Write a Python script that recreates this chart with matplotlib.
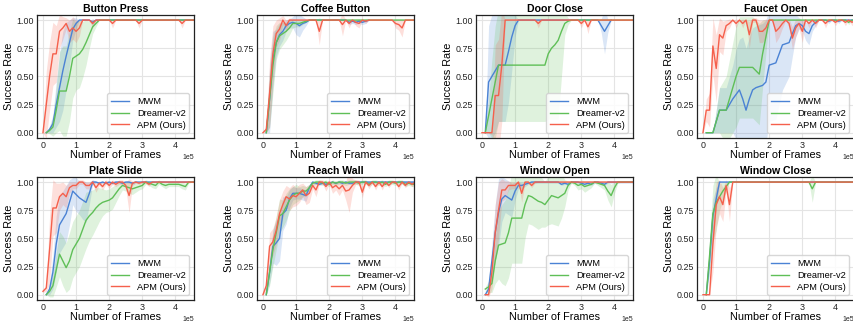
import numpy as np
import matplotlib
matplotlib.use("Agg")
import matplotlib.pyplot as plt
from matplotlib.ticker import FormatStrFormatter

plt.rcParams["font.family"] = ["Liberation Sans", "DejaVu Sans"]

STEP = 1e4  # environment frames between evaluation points

methods = ["MWM", "Dreamer-v2", "APM (Ours)"]
colors = ["#4a82d4", "#5fbf57", "#f5604c"]

titles = ["Button Press", "Coffee Button", "Door Close", "Faucet Open",
          "Plate Slide", "Reach Wall", "Window Open", "Window Close"]

# ---------------- Button Press ----------------
bp_mwm = [0, 0.03, 0.08, 0.25, 0.4, 0.55, 0.68, 0.8, 0.92, 0.97, 1.0, 1, 1, 1, 0.98,
          1, 1, 1, 1, 1, 1, 1, 1, 1, 1, 1, 1, 1, 1, 1, 1, 1, 1, 1, 1, 1, 1, 1, 1, 1, 1, 1, 1, 1, 1, 1]
bp_mwm_sd = [0, 0.03, 0.08, 0.2, 0.3, 0.35, 0.3, 0.2, 0.1, 0.05, 0, 0, 0, 0, 0.03,
             0, 0, 0, 0, 0, 0, 0, 0, 0, 0, 0, 0, 0, 0, 0, 0, 0, 0, 0, 0, 0, 0, 0, 0, 0, 0, 0, 0, 0, 0, 0]
bp_dreamer = [0, 0.02, 0.05, 0.2, 0.37, 0.37, 0.37, 0.5, 0.66, 0.68, 0.7, 0.74, 0.8, 0.87, 0.94, 0.97, 1.0,
              1, 1, 1, 1, 1, 1, 1, 1, 1, 1, 1, 1, 1, 1, 1, 1, 1, 1, 1, 1, 1, 1, 1, 1, 1, 1, 1, 1, 1]
bp_dreamer_sd = [0, 0.03, 0.08, 0.2, 0.35, 0.4, 0.4, 0.4, 0.35, 0.3, 0.3, 0.25, 0.2, 0.12, 0.06, 0.03, 0,
                 0, 0, 0, 0, 0, 0, 0, 0, 0, 0, 0, 0, 0, 0, 0, 0, 0, 0, 0, 0, 0, 0, 0, 0, 0, 0, 0, 0, 0]
bp_apm = [0, 0.25, 0.5, 0.7, 0.7, 0.9, 0.93, 0.97, 0.9, 0.93, 0.9, 0.93, 1, 1, 1, 0.97,
          1, 1, 1, 1, 1, 0.97, 1, 1, 1, 1, 1, 1, 1, 0.97, 1, 1, 1, 1, 1, 1, 1, 1, 1, 1, 1, 1, 0.97, 1, 1, 1, 1]
bp_apm_sd = [0, 0.3, 0.3, 0.28, 0.25, 0.15, 0.1, 0.05, 0.1, 0.1, 0.1, 0.07, 0, 0, 0, 0.04,
             0, 0, 0, 0, 0, 0.04, 0, 0, 0, 0, 0, 0, 0, 0.04, 0, 0, 0, 0, 0, 0, 0, 0, 0, 0, 0, 0, 0.04, 0, 0, 0, 0]

# ---------------- Coffee Button ----------------
cb_mwm = [0, 0.3, 0.65, 0.8, 0.87, 0.9, 0.95, 0.97, 0.98, 0.97, 0.95, 0.97, 0.98, 1.0,
          1, 1, 1, 1, 1, 1, 1, 1, 1, 1, 1, 0.98, 0.99, 0.98, 0.99, 0.98, 0.99, 1.0]
cb_mwm_sd = [0, 0.3, 0.25, 0.12, 0.1, 0.08, 0.05, 0.04, 0.05, 0.1, 0.1, 0.06, 0.03, 0,
             0, 0, 0, 0, 0, 0, 0, 0, 0, 0, 0, 0.02, 0.02, 0.02, 0.02, 0.02, 0.02, 0]
cb_dreamer = [0, 0.3, 0.6, 0.8, 0.86, 0.88, 0.9, 0.93, 0.97, 0.97, 0.97, 0.98, 0.99, 1.0,
              1, 1, 1, 1, 1, 1, 1, 1, 1, 1, 1, 1, 1, 1, 1, 1, 1, 1, 1, 1, 1, 1, 1, 1, 1, 1, 1, 1, 1, 1, 1, 1]
cb_dreamer_sd = [0, 0.25, 0.25, 0.15, 0.12, 0.1, 0.08, 0.06, 0.04, 0.03, 0.03, 0.02, 0.01, 0,
                 0, 0, 0, 0, 0, 0, 0, 0, 0, 0, 0, 0, 0, 0, 0, 0, 0, 0, 0, 0, 0, 0, 0, 0, 0, 0, 0, 0, 0, 0, 0, 0]
cb_apm = [0, 0.03, 0.35, 0.7, 0.88, 0.92, 1.0, 0.95, 1.0, 1, 1, 1, 1, 1, 1, 1, 1, 0.9,
          1, 1, 1, 1, 1, 1, 0.96, 1.0, 0.97, 1.0, 0.98, 0.97, 1.0, 0.99,
          1, 1, 1, 1, 1, 1, 1, 1, 0.97, 0.96, 0.93, 1.0, 1, 1, 1]
cb_apm_sd = [0, 0.03, 0.3, 0.25, 0.12, 0.1, 0.04, 0.05, 0.02, 0, 0, 0, 0, 0, 0, 0, 0, 0.12,
             0, 0, 0, 0, 0, 0, 0.1, 0, 0.04, 0, 0.03, 0.04, 0, 0.02,
             0, 0, 0, 0, 0, 0, 0, 0, 0.04, 0.05, 0.08, 0, 0, 0, 0]

# ---------------- Door Close ----------------
dc_mwm = [0, 0.45, 0.5, 0.55, 0.6, 0.6, 0.6, 0.72, 0.85, 0.95, 1.0,
          1, 1, 1, 1, 1, 1, 1, 1, 1, 1, 1, 1, 1, 1, 1, 1, 1, 1, 1, 1, 1, 1, 1, 1,
          0.95, 0.9, 0.95, 1.0]
dc_mwm_sd = [0, 0.5, 0.55, 0.55, 0.5, 0.5, 0.5, 0.45, 0.3, 0.1, 0,
             0, 0, 0, 0, 0, 0, 0, 0, 0, 0, 0, 0, 0, 0, 0, 0, 0, 0, 0, 0, 0, 0, 0, 0,
             0.06, 0.2, 0.06, 0]
dc_dreamer = [0, 0.15, 0.3, 0.45, 0.6, 0.6, 0.6, 0.6, 0.6, 0.6, 0.6, 0.6, 0.6, 0.6, 0.6, 0.6, 0.6, 0.6, 0.6,
              0.7, 0.75, 0.78, 0.82, 0.9, 0.97, 0.99, 1.0,
              1, 1, 1, 1, 1, 1, 1, 1, 1, 1, 1, 1, 1, 1, 1, 1, 1, 1, 1]
dc_dreamer_sd = [0, 0.15, 0.35, 0.5, 0.5, 0.5, 0.5, 0.5, 0.5, 0.5, 0.5, 0.5, 0.5, 0.5, 0.5, 0.5, 0.5, 0.5, 0.5,
                 0.58, 0.63, 0.66, 0.7, 0.4, 0.1, 0.03, 0,
                 0, 0, 0, 0, 0, 0, 0, 0, 0, 0, 0, 0, 0, 0, 0, 0, 0, 0, 0]
dc_apm = [0, 0, 0, 0, 0.33, 0.33, 0.6, 1.0, 1, 1, 1, 1, 1, 1, 1, 1, 1, 0.97,
          1, 1, 1, 1, 1, 1, 1, 1, 1, 1, 1, 1, 0.97, 1.0, 0.94,
          1, 1, 1, 1, 1, 1, 1, 1, 1, 1, 1, 1, 1, 1]
dc_apm_sd = [0, 0, 0, 0.02, 0.45, 0.5, 0.5, 0, 0, 0, 0, 0, 0, 0, 0, 0, 0, 0.04,
             0, 0, 0, 0, 0, 0, 0, 0, 0, 0, 0, 0, 0.04, 0, 0.06,
             0, 0, 0, 0, 0, 0, 0, 0, 0, 0, 0, 0, 0, 0]

# ---------------- Faucet Open ----------------
fo_mwm = [0, 0, 0, 0.1, 0.2, 0.2, 0.2, 0.25, 0.3, 0.34, 0.38, 0.3, 0.2, 0.3, 0.38, 0.4, 0.41, 0.42, 0.45,
          0.6, 0.61, 0.62, 0.7, 0.78, 0.79, 0.8, 0.88, 0.95, 0.97, 0.95, 0.9, 0.88, 0.95, 0.98,
          1.0, 1.0, 1.0, 0.99, 1.0, 1.0, 0.99, 1.0, 1.0, 1.0, 1.0, 1.0]
fo_mwm_sd = [0, 0, 0, 0.1, 0.2, 0.2, 0.2, 0.25, 0.3, 0.4, 0.45, 0.55, 0.55, 0.55, 0.55, 0.55, 0.55, 0.55, 0.55,
             0.5, 0.5, 0.5, 0.45, 0.4, 0.35, 0.3, 0.2, 0.1, 0.05, 0.05, 0.08, 0.1, 0.05, 0.03,
             0, 0, 0, 0.02, 0, 0, 0.02, 0, 0, 0, 0, 0]
fo_dreamer = [0, 0, 0, 0.1, 0.2, 0.2, 0.2, 0.3, 0.4, 0.5, 0.58, 0.58, 0.58, 0.58, 0.58, 0.55, 0.52, 0.7, 0.85, 1.0,
              1, 1, 1, 1, 1, 1, 1, 1, 1, 1, 1, 1, 1, 1, 1, 1, 1, 1, 1, 1, 1, 1, 1, 0.98, 1.0, 1.0]
fo_dreamer_sd = [0, 0, 0, 0.1, 0.2, 0.25, 0.3, 0.35, 0.4, 0.45, 0.45, 0.45, 0.45, 0.45, 0.45, 0.45, 0.45, 0.3, 0.15, 0,
                 0, 0, 0, 0, 0, 0, 0, 0, 0, 0, 0, 0, 0, 0, 0, 0, 0, 0, 0, 0, 0, 0, 0, 0.02, 0, 0]
fo_apm = [0, 0.2, 0.2, 0.77, 0.57, 0.87, 0.84, 0.95, 0.97, 1.0, 0.97, 1.0, 0.97, 1.0, 0.87, 1.0, 1.0,
          0.9, 0.9, 0.93, 1.0, 1.0, 0.9, 0.93, 0.97, 1.0, 0.97, 0.84, 0.93, 0.97, 0.9, 1.0,
          0.97, 1.0, 0.97, 1.0, 1.0, 0.97, 1.0, 1.0, 0.98, 1.0, 1.0, 0.98, 1.0, 0.98, 1.0]
fo_apm_sd = [0, 0.1, 0.15, 0.25, 0.3, 0.15, 0.15, 0.05, 0.04, 0, 0.04, 0, 0.04, 0, 0.12, 0.02, 0.02,
             0.1, 0.1, 0.08, 0, 0, 0.1, 0.08, 0.04, 0, 0.04, 0.1, 0.08, 0.04, 0.1, 0,
             0.04, 0, 0.04, 0, 0, 0.04, 0, 0, 0.03, 0, 0, 0.03, 0, 0.03, 0]

# ---------------- Plate Slide ----------------
ps_mwm = [0, 0.05, 0.2, 0.45, 0.62, 0.67, 0.72, 0.82, 0.92, 0.89, 0.86, 0.84, 0.82, 0.9, 1.0,
          1.0, 0.99, 1.0, 0.99, 1.0, 0.99, 1.0, 1.0, 0.99, 1.0, 1.0, 0.99, 1.0,
          1, 1, 1, 1, 1, 1, 1, 1, 1, 1, 1, 1, 1, 1, 1, 1, 1, 1]
ps_mwm_sd = [0, 0.05, 0.15, 0.25, 0.25, 0.25, 0.25, 0.2, 0.12, 0.15, 0.15, 0.17, 0.18, 0.1, 0.02,
             0.01, 0.01, 0.01, 0.01, 0.01, 0.01, 0.01, 0.01, 0.01, 0.01, 0.01, 0.01, 0.01,
             0, 0, 0, 0, 0, 0, 0, 0, 0, 0, 0, 0, 0, 0, 0, 0, 0, 0]
ps_dreamer = [0, 0.03, 0.08, 0.22, 0.36, 0.3, 0.24, 0.3, 0.4, 0.45, 0.5, 0.58, 0.66, 0.7, 0.73, 0.77,
              0.8, 0.82, 0.83, 0.84, 0.86, 0.9, 0.94, 0.97, 0.96, 0.95, 0.94, 0.95, 0.96, 0.97, 1.0,
              0.99, 0.98, 0.97, 1.0, 0.98, 0.97, 0.98, 0.98, 0.98, 0.98, 0.97, 0.96, 1.0, 1.0, 1.0]
ps_dreamer_sd = [0, 0.05, 0.1, 0.15, 0.2, 0.22, 0.22, 0.25, 0.25, 0.25, 0.25, 0.25, 0.25, 0.22, 0.2, 0.18,
                 0.15, 0.12, 0.1, 0.1, 0.1, 0.08, 0.06, 0.04, 0.04, 0.05, 0.05, 0.04, 0.03, 0.03, 0.02,
                 0.02, 0.03, 0.03, 0.02, 0.02, 0.03, 0.02, 0.02, 0.02, 0.02, 0.03, 0.03, 0.01, 0, 0]
ps_apm = [0.03, 0.06, 0.4, 0.77, 0.77, 0.87, 0.9, 0.87, 0.95, 0.97, 0.97, 1.0, 1.0, 0.97, 0.97, 1.0,
          0.95, 0.99, 0.96, 1.0, 0.97, 1.0, 0.98, 1.0, 1.0, 0.97, 0.88, 0.99, 1.0, 0.99, 1.0, 1.0, 0.98,
          1, 1, 1, 1, 1, 1, 1, 1, 1, 1, 1, 1, 1, 1]
ps_apm_sd = [0.01, 0.03, 0.3, 0.25, 0.22, 0.12, 0.1, 0.1, 0.05, 0.03, 0.03, 0.02, 0.02, 0.03, 0.03, 0.02,
             0.04, 0.02, 0.03, 0.02, 0.03, 0.02, 0.02, 0.02, 0.02, 0.03, 0.15, 0.02, 0.01, 0.01, 0.01, 0.01, 0.02,
             0, 0, 0, 0, 0, 0, 0, 0, 0, 0, 0, 0, 0, 0]

# ---------------- Reach Wall ----------------
rw_mwm = [0, 0.2, 0.43, 0.46, 0.5, 0.72, 0.75, 0.85, 0.9, 0.9, 0.9, 0.89, 0.88, 0.95, 1.0,
          0.99, 0.98, 0.99, 0.98, 0.99, 1.0, 0.99, 1.0, 0.99, 1.0, 0.99, 0.99, 1.0,
          1, 1, 1, 1, 1, 1, 1, 1, 1, 1, 1, 1, 1, 1, 1, 1, 1, 1]
rw_mwm_sd = [0, 0.1, 0.15, 0.2, 0.2, 0.15, 0.12, 0.08, 0.06, 0.05, 0.05, 0.05, 0.05, 0.03, 0.01,
             0.01, 0.01, 0.01, 0.01, 0.01, 0.01, 0.01, 0.01, 0.01, 0.01, 0.01, 0.01, 0.01,
             0.01, 0.01, 0.01, 0.01, 0.01, 0.01, 0.01, 0.01, 0.01, 0.01, 0.01, 0.01, 0.01, 0.01, 0.01, 0.01, 0.01, 0.01]
rw_dreamer = [0, 0.2, 0.4, 0.55, 0.7, 0.72, 0.78, 0.84, 0.88, 0.9, 0.9, 0.92, 0.92, 0.95, 0.99,
              1.0, 1.0, 0.99, 1.0, 0.98, 1.0, 0.99, 1.0, 1.0, 0.99, 1.0, 1.0, 1.0, 0.99, 1.0, 1.0,
              0.98, 1.0, 1.0, 0.99, 1.0, 0.98, 1.0, 1.0, 0.99, 1.0, 1.0, 0.98, 0.99, 0.98, 0.98]
rw_dreamer_sd = [0, 0.12, 0.15, 0.15, 0.15, 0.12, 0.12, 0.1, 0.08, 0.08, 0.06, 0.05, 0.04, 0.03, 0.02,
                 0.02, 0.02, 0.02, 0.02, 0.02, 0.02, 0.02, 0.02, 0.02, 0.02, 0.02, 0.02, 0.02, 0.02, 0.02, 0.02,
                 0.02, 0.02, 0.02, 0.02, 0.02, 0.02, 0.02, 0.02, 0.02, 0.02, 0.02, 0.02, 0.02, 0.02, 0.02]
rw_apm = [0, 0.08, 0.43, 0.47, 0.57, 0.72, 0.8, 0.87, 0.85, 0.88, 0.87, 0.9, 0.93, 0.88, 0.9, 0.97,
          0.93, 1.0, 1.0, 0.96, 1.0, 0.95, 0.97, 0.94, 0.97, 0.92, 0.93, 0.97, 1.0, 1.0, 0.91,
          1.0, 0.97, 1.0, 0.96, 1.0, 0.96, 1.0, 0.97, 1.0, 1.0, 0.96, 1.0, 0.97, 1.0, 0.98, 1.0]
rw_apm_sd = [0, 0.05, 0.12, 0.12, 0.12, 0.12, 0.12, 0.1, 0.1, 0.1, 0.08, 0.08, 0.06, 0.08, 0.08, 0.03,
             0.06, 0.02, 0.02, 0.04, 0.02, 0.05, 0.04, 0.06, 0.04, 0.08, 0.2, 0.06, 0.02, 0.02, 0.05,
             0.01, 0.03, 0.01, 0.03, 0.01, 0.03, 0.01, 0.02, 0.01, 0.01, 0.03, 0.01, 0.02, 0.01, 0.02, 0.01]

# ---------------- Window Open ----------------
wo_mwm = [0, 0.05, 0.3, 0.55, 0.73, 0.85, 0.88, 0.86, 0.84, 0.92, 0.97, 0.97, 0.98, 0.99,
          1.0, 1.0, 1.0, 1.0, 1.0, 1.0, 1.0, 1.0, 1.0, 0.98, 0.99, 0.98, 1.0, 1.0, 1.0, 0.99,
          0.98, 0.99, 0.98, 1.0, 1.0, 0.99, 0.98, 1.0, 1, 1, 1, 1, 1, 1, 1, 1]
wo_mwm_sd = [0, 0.05, 0.15, 0.25, 0.3, 0.2, 0.15, 0.15, 0.15, 0.08, 0.03, 0.03, 0.02, 0.01,
             0.01, 0.01, 0.01, 0.01, 0.01, 0.01, 0.01, 0.01, 0.01, 0.01, 0.01, 0.01, 0.01, 0.01, 0.01, 0.01,
             0.01, 0.01, 0.01, 0.01, 0.01, 0.01, 0.01, 0.01, 0.01, 0.01, 0.01, 0.01, 0.01, 0.01, 0.01, 0.01]
wo_dreamer = [0.05, 0.07, 0.1, 0.3, 0.44, 0.45, 0.46, 0.55, 0.68, 0.68, 0.68, 0.68, 0.8, 0.88, 0.87,
              0.85, 0.83, 0.82, 0.8, 0.84, 0.88, 0.87, 0.86, 0.88, 0.9, 0.97, 1.0, 0.99, 0.97, 0.98,
              0.96, 0.97, 0.98, 1.0, 0.99, 0.98, 0.97, 0.92, 0.88, 0.95, 1.0, 1, 1, 1, 1, 1]
wo_dreamer_sd = [0.02, 0.05, 0.08, 0.2, 0.3, 0.35, 0.38, 0.4, 0.4, 0.4, 0.4, 0.4, 0.3, 0.25, 0.25,
                 0.25, 0.25, 0.22, 0.2, 0.22, 0.25, 0.25, 0.25, 0.2, 0.12, 0.04, 0.01, 0.02, 0.04, 0.04,
                 0.05, 0.04, 0.03, 0.01, 0.02, 0.03, 0.04, 0.08, 0.1, 0.05, 0.01, 0, 0, 0, 0, 0]
wo_apm = [0, 0, 0.2, 0.55, 0.75, 0.93, 0.93, 0.97, 0.97, 0.97, 1.0, 0.9, 1.0, 1.0, 0.97, 1.0,
          1, 1, 1, 1, 1, 1, 1, 1, 1, 1, 1, 1, 1, 1, 1, 1, 1, 1, 1, 1, 1, 1, 1, 1, 1, 1, 1, 1, 1, 1]
wo_apm_sd = [0, 0.02, 0.15, 0.25, 0.25, 0.1, 0.08, 0.04, 0.03, 0.03, 0.01, 0.08, 0.01, 0.01, 0.02, 0.01,
             0, 0, 0, 0, 0, 0, 0, 0, 0, 0, 0, 0, 0, 0, 0, 0, 0, 0, 0, 0, 0, 0, 0, 0, 0, 0, 0, 0, 0, 0]

# ---------------- Window Close ----------------
wc_mwm = [0, 0.3, 0.7, 0.85, 1.0,
          1, 1, 1, 1, 1, 1, 1, 1, 1, 1, 1, 1, 1, 1, 1, 1, 1, 1, 1, 1, 1, 1, 1, 1, 1, 1, 1, 1, 1, 1,
          1, 1, 1, 1, 1, 1, 1, 1, 1, 1, 1]
wc_mwm_sd = [0, 0.1, 0.15, 0.1, 0,
             0, 0, 0, 0, 0, 0, 0, 0, 0, 0, 0, 0, 0, 0, 0, 0, 0, 0, 0, 0, 0, 0, 0, 0, 0, 0, 0, 0, 0, 0,
             0, 0, 0, 0, 0, 0, 0, 0, 0, 0, 0]
wc_dreamer = [0, 0.35, 0.72, 0.82, 0.87, 0.92, 0.96, 1.0,
              1, 1, 1, 1, 1, 1, 1, 1, 1, 1, 1, 1, 1, 1, 1, 1, 1, 1, 1, 1, 1, 1, 1, 1,
              0.94, 1, 1, 1, 1, 1, 1, 1, 1, 1, 1, 1, 1, 1]
wc_dreamer_sd = [0, 0.15, 0.25, 0.25, 0.12, 0.08, 0.04, 0,
                 0, 0, 0, 0, 0, 0, 0, 0, 0, 0, 0, 0, 0, 0, 0, 0, 0, 0, 0, 0, 0, 0, 0, 0,
                 0.12, 0, 0, 0, 0, 0, 0, 0, 0, 0, 0, 0, 0, 0]
wc_apm = [0, 0, 0, 0.45, 0.8, 0.87, 0.8, 0.97, 0.8, 1.0,
          1, 1, 1, 1, 1, 1, 1, 1, 1, 1, 1, 1, 1, 1, 1, 1, 1, 1, 1, 1, 1, 1, 1, 1, 1, 1, 1,
          1, 1, 1, 1, 1, 1, 1, 1, 1, 1]
wc_apm_sd = [0, 0, 0, 0.25, 0.2, 0.15, 0.15, 0.05, 0.15, 0,
             0, 0, 0, 0, 0, 0, 0, 0, 0, 0, 0, 0, 0, 0, 0, 0, 0, 0, 0, 0, 0, 0, 0, 0, 0, 0, 0,
             0, 0, 0, 0, 0, 0, 0, 0, 0, 0]

# (mean, std, index of first evaluation) for MWM, Dreamer-v2, APM in each task
panels = [
    [(bp_mwm, bp_mwm_sd, 1), (bp_dreamer, bp_dreamer_sd, 1), (bp_apm, bp_apm_sd, 0)],
    [(cb_mwm, cb_mwm_sd, 1), (cb_dreamer, cb_dreamer_sd, 1), (cb_apm, cb_apm_sd, 0)],
    [(dc_mwm, dc_mwm_sd, 1), (dc_dreamer, dc_dreamer_sd, 1), (dc_apm, dc_apm_sd, 0)],
    [(fo_mwm, fo_mwm_sd, 1), (fo_dreamer, fo_dreamer_sd, 1), (fo_apm, fo_apm_sd, 0)],
    [(ps_mwm, ps_mwm_sd, 1), (ps_dreamer, ps_dreamer_sd, 1), (ps_apm, ps_apm_sd, 0)],
    [(rw_mwm, rw_mwm_sd, 1), (rw_dreamer, rw_dreamer_sd, 1), (rw_apm, rw_apm_sd, 0)],
    [(wo_mwm, wo_mwm_sd, 1), (wo_dreamer, wo_dreamer_sd, 1), (wo_apm, wo_apm_sd, 1)],
    [(wc_mwm, wc_mwm_sd, 1), (wc_dreamer, wc_dreamer_sd, 1), (wc_apm, wc_apm_sd, 0)],
]

W, H = 854, 328
fig = plt.figure(figsize=(W / 100, H / 100), dpi=100)

col_left = [37, 257, 476, 697]
row_top = [15, 177]
ax_w, ax_h = 157, 123

for k, (title, series) in enumerate(zip(titles, panels)):
    r, c = divmod(k, 4)
    ax = fig.add_axes([col_left[c] / W, 1 - (row_top[r] + ax_h) / H, ax_w / W, ax_h / H])
    ax.set_facecolor("white")
    ax.grid(True, color="#e4e4e4", linewidth=0.8)
    ax.set_axisbelow(True)
    for (mean, sd, start), name, col in zip(series, methods, colors):
        m = np.asarray(mean, dtype=float)
        s = np.asarray(sd, dtype=float)
        x = (start + np.arange(len(m))) * STEP
        ax.fill_between(x, m - s, m + s, color=col, alpha=0.2, linewidth=0)
        ax.plot(x, m, color=col, linewidth=1.0, label=name)
    ax.set_xlim(-0.18e5, 4.56e5)
    ax.set_ylim(-0.047, 1.045)
    ax.set_xticks([0, 1e5, 2e5, 3e5, 4e5])
    ax.set_yticks([0, 0.25, 0.5, 0.75, 1.0])
    ax.yaxis.set_major_formatter(FormatStrFormatter("%.2f"))
    ax.ticklabel_format(axis="x", style="sci", scilimits=(0, 0))
    ax.xaxis.get_offset_text().set_fontsize(5)
    ax.tick_params(length=0, labelsize=6.4, pad=2, colors="#222222")
    for sp in ax.spines.values():
        sp.set_color("#222222")
        sp.set_linewidth(0.9)
    ax.set_title(title, fontsize=7.6, fontweight="bold", pad=2.5)
    ax.set_xlabel("Number of Frames", fontsize=7.8, labelpad=0.5)
    ax.set_ylabel("Success Rate", fontsize=7.8, labelpad=2)
    ax.legend(loc="lower right", fontsize=6.7, labelspacing=0.3, handlelength=2.0,
              borderpad=0.4, framealpha=0.85, edgecolor="#d0d0d0", fancybox=True)

fig.savefig("out.png", dpi=100, facecolor="white")
